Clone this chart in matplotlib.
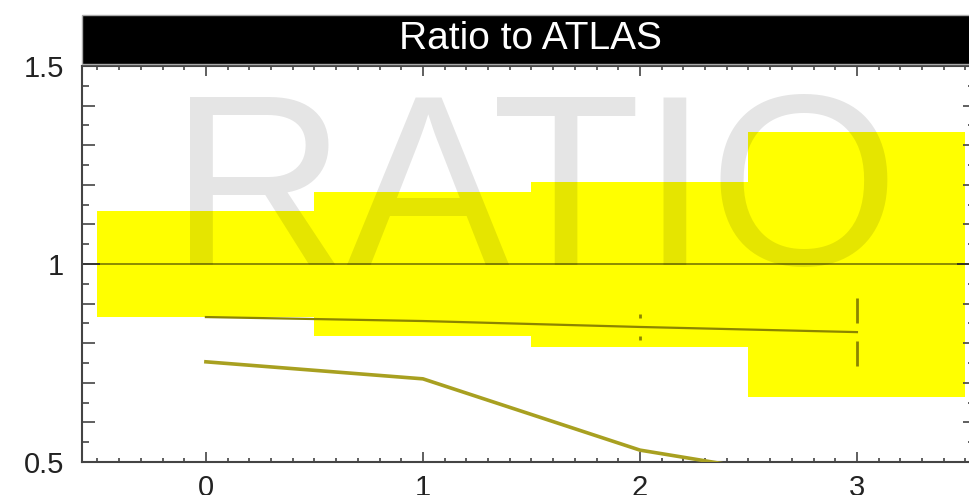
import numpy as np
import matplotlib
matplotlib.use("Agg")
import matplotlib.pyplot as plt
from matplotlib.patches import Rectangle
from matplotlib.ticker import MultipleLocator, FixedLocator, NullFormatter

plt.rcParams['font.family'] = ['Liberation Sans', 'DejaVu Sans']

# band bins (ATLAS uncertainty) and ratio curves
bin_edges = [-0.5, 0.5, 1.5, 2.5, 3.5]
band_low = [0.866, 0.818, 0.790, 0.664]
band_high = [1.134, 1.182, 1.207, 1.333]

x_pts = [0, 1, 2, 3]
ratio_a = [0.866, 0.856, 0.841, 0.828]
ratio_a_err = [0.006, 0.010, 0.034, 0.085]
ratio_b = [0.753, 0.710, 0.530, 0.440]

y_ticks = [0.5, 1, 1.5]
y_labels = ['0.5', '1', '1.5']
y_half_ticks = [0.55, 0.65, 0.75, 0.85, 0.95, 1.05, 1.15, 1.25, 1.35, 1.45]
x_ticks = [0, 1, 2, 3]

fig = plt.figure(figsize=(9.7, 4.95), dpi=100)
ax = fig.add_axes([82 / 970, 33 / 495, 893 / 970, 396 / 495])
ax.set_xlim(-0.571, 3.544)
ax.set_ylim(0.5, 1.5)

# yellow bands
for i in range(len(band_low)):
    ax.add_patch(Rectangle((bin_edges[i], band_low[i]),
                           bin_edges[i + 1] - bin_edges[i],
                           band_high[i] - band_low[i],
                           facecolor='#ffff00', edgecolor='none', zorder=1))

ax.axhline(1.0, color='black', alpha=0.45, lw=1.4, zorder=2)

ax.plot(x_pts, ratio_a, color='#8c8500', lw=1.6, zorder=3)
# error bars with a gap round the point
gap = 0.023
for x, y, e in zip(x_pts, ratio_a, ratio_a_err):
    if e > gap:
        ax.vlines([x, x], [y + gap, y - e], [y + e, y - gap],
                  color='#8c8500', lw=2, zorder=3)
ax.plot(x_pts, ratio_b, color='#a8a020', lw=2.6, zorder=3)

# watermark
ax.text(0.507, 0.655, 'RATIO', transform=ax.transAxes, fontsize=176,
        color='black', alpha=0.1, ha='center', va='center', zorder=5)

# title bar
ax.add_patch(Rectangle((0, 1.005), 1.2, 0.124, transform=ax.transAxes,
                       facecolor='black', edgecolor='#aaaaaa', lw=1,
                       clip_on=False, zorder=6))
ax.text(0.502, 1.068, 'Ratio to ATLAS', transform=ax.transAxes,
        fontsize=28, color='white', ha='center', va='center', zorder=7)

# ticks
ax.yaxis.set_major_locator(FixedLocator(y_ticks))
ax.set_yticklabels(y_labels)
ax.yaxis.set_minor_locator(MultipleLocator(0.1))
ax.xaxis.set_major_locator(FixedLocator(x_ticks))
ax.xaxis.set_minor_locator(MultipleLocator(0.1))
ax.tick_params(axis='both', which='both', direction='in',
               top=True, right=True, color='#444444', width=1.2)
ax.tick_params(axis='y', which='major', length=13, labelsize=21, pad=13,
               labelcolor='#222222')
ax.tick_params(axis='y', which='minor', length=9)
ax.tick_params(axis='x', which='major', length=7, labelsize=21, pad=9,
               labelcolor='#222222')
ax.tick_params(axis='x', which='minor', length=3)

# short ticks at the half steps, both sides
for side in ['left', 'right']:
    sec = ax.secondary_yaxis(side)
    sec.yaxis.set_major_locator(FixedLocator(y_half_ticks))
    sec.yaxis.set_major_formatter(NullFormatter())
    sec.tick_params(direction='in', length=5, width=1.2, color='#444444')
    sec.spines[side].set_visible(False)

for s in ax.spines.values():
    s.set_color('#444444')
    s.set_linewidth(1.5)

fig.savefig('out.png', dpi=100)
